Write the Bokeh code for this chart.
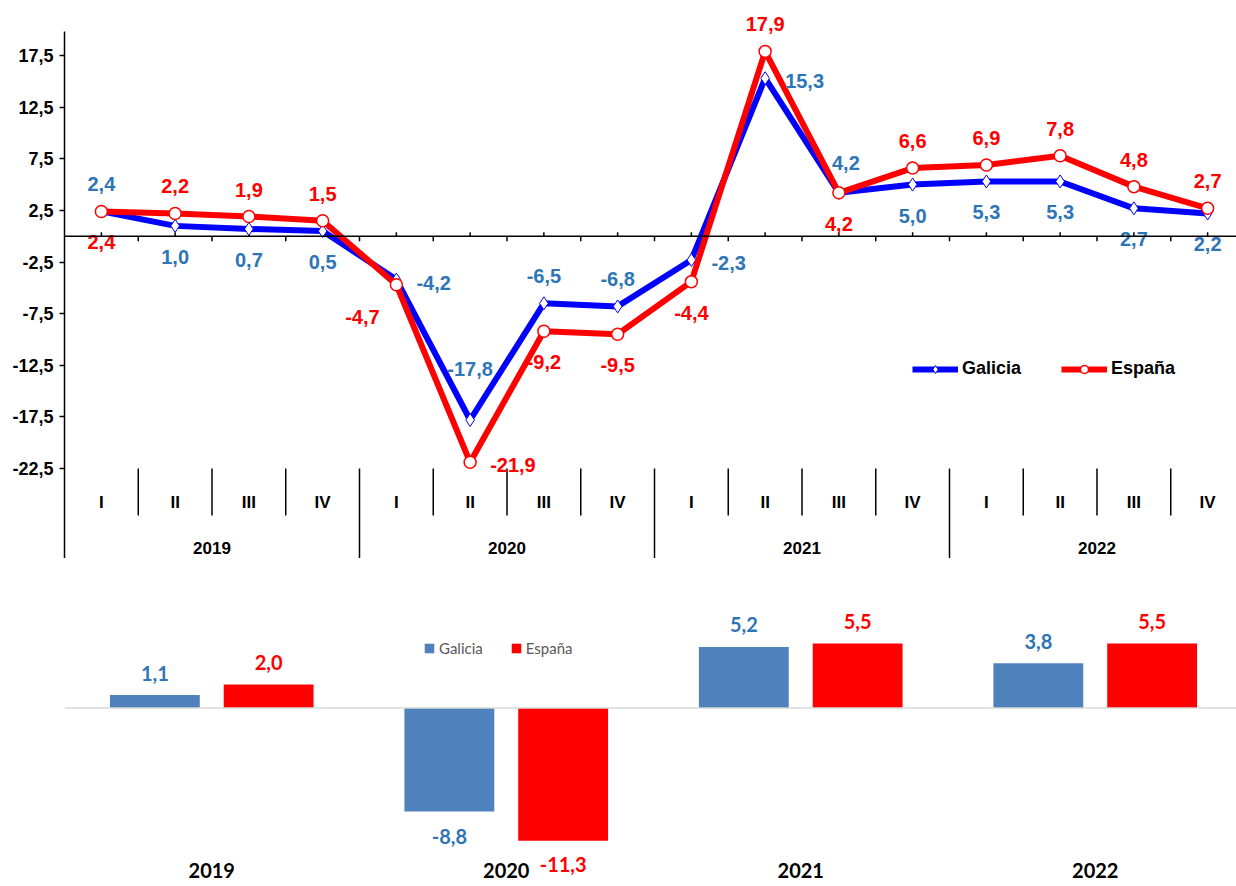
from bokeh.plotting import figure
from bokeh.models import (Range1d, FixedTicker, Span, Legend, LegendItem, LabelSet,
                          ColumnDataSource)
from bokeh.layouts import column
from bokeh.embed import file_html
from bokeh.resources import INLINE
from bokeh.core.properties import value
from bokeh.transform import dodge

# ---------------- data ----------------
years = ["2019", "2020", "2021", "2022"]
quarters = ["I", "II", "III", "IV"]
galicia_q = [2.4, 1.0, 0.7, 0.5, -4.2, -17.8, -6.5, -6.8, -2.3, 15.3, 4.2, 5.0, 5.3, 5.3, 2.7, 2.2]
espana_q = [2.4, 2.2, 1.9, 1.5, -4.7, -21.9, -9.2, -9.5, -4.4, 17.9, 4.2, 6.6, 6.9, 7.8, 4.8, 2.7]
galicia_y = [1.1, -8.8, 5.2, 3.8]
espana_y = [2.0, -11.3, 5.5, 5.5]
y_ticks = [-22.5, -17.5, -12.5, -7.5, -2.5, 2.5, 7.5, 12.5, 17.5]

# data-label placement (Excel-like label positions)
galicia_pos = ["above", "below", "below", "below", "right", "high", "above", "above",
               "right", "right", "aboveright", "below", "below", "below", "below", "below"]
espana_pos = ["below", "above", "above", "above", "belowleft", "right", "below", "below",
              "below", "above", "below", "above", "above", "above", "above", "above"]

# ---------------- styles ----------------
FONT = "Liberation Sans"
BFONT = "Lato"
BLUE_LINE = "#0000FF"
RED = "#FF0000"
BLUE_TXT = "#2E75B6"
BAR_BLUE = "#4F81BD"


def fmt(v):
    return f"{v:.1f}".replace(".", ",")


PLACE = {
    "above": (0, -27, "center"),
    "below": (0, 31, "center"),
    "right": (20, 3, "left"),
    "high": (0, -51, "center"),
    "belowleft": (-34, 32, "center"),
    "aboveright": (7, -30, "center"),
}

# ---------------- top chart (quarterly) ----------------
PX = 10.325          # px per unit
ZERO = 235.7         # px of zero below figure top
FIG1_H = 558
QW = 73.75           # px per quarter
LEFT1 = 64
FRAME_W = 1236 - LEFT1

n_q = len(years) * len(quarters)
y_top = ZERO / PX
y_bot = -(FIG1_H - ZERO) / PX
axis_top = (ZERO - 31) / PX

p1 = figure(width=LEFT1 + FRAME_W, height=FIG1_H,
            x_range=Range1d(0, FRAME_W / QW), y_range=Range1d(y_bot, y_top),
            output_backend="svg", toolbar_location=None, x_axis_location=None,
            min_border_left=LEFT1, min_border_right=0, min_border_top=0, min_border_bottom=0)
p1.outline_line_color = None
p1.grid.visible = False
p1.background_fill_color = "white"

ya = p1.yaxis[0]
ya.ticker = FixedTicker(ticks=y_ticks)
ya.major_label_overrides = {t: fmt(t) for t in y_ticks}
ya.bounds = (y_bot, axis_top)
ya.axis_line_color = "black"
ya.axis_line_width = 1.5
ya.major_tick_line_color = "black"
ya.major_tick_line_width = 1.5
ya.major_tick_out = 5
ya.major_tick_in = 0
ya.minor_tick_line_color = None
ya.major_label_standoff = 6
ya.major_label_text_font = FONT
ya.major_label_text_font_style = "bold"
ya.major_label_text_font_size = "18px"
ya.major_label_text_color = "black"

# zero axis line with its ticks
p1.add_layout(Span(location=0, dimension="width", line_color="black", line_width=1.5))
centers = [i + 0.5 for i in range(n_q)]
bounds = list(range(1, n_q))
p1.segment(x0=bounds, y0=[0] * len(bounds), x1=bounds, y1=[-5 / PX] * len(bounds),
           line_color="black", line_width=1.5)
p1.segment(x0=centers, y0=[0] * n_q, x1=centers, y1=[4 / PX] * n_q,
           line_color="black", line_width=1.5)

# category axis below the plot (quarters grouped by year)
cat_top = y_ticks[0]
q_sep_bot = (ZERO - 515) / PX
q_lab_y = (ZERO - 502) / PX
yr_lab_y = (ZERO - 547) / PX
q_bounds = [b for b in bounds if b % len(quarters) != 0]
yr_bounds = [b for b in bounds if b % len(quarters) == 0]
p1.segment(x0=q_bounds, y0=[cat_top] * len(q_bounds), x1=q_bounds, y1=[q_sep_bot] * len(q_bounds),
           line_color="black", line_width=1.5)
p1.segment(x0=yr_bounds, y0=[cat_top] * len(yr_bounds), x1=yr_bounds, y1=[y_bot] * len(yr_bounds),
           line_color="black", line_width=1.5)
p1.text(x=centers, y=[q_lab_y] * n_q, text=quarters * len(years),
        text_font=value(FONT), text_font_style="bold", text_font_size="17px",
        text_color="black", text_align="center", text_baseline="middle")
yr_centers = [len(quarters) * (i + 0.5) for i in range(len(years))]
p1.text(x=yr_centers, y=[yr_lab_y] * len(years), text=years,
        text_font=value(FONT), text_font_style="bold", text_font_size="17px",
        text_color="black", text_align="center", text_baseline="middle")

# lines
gl = p1.line(centers, galicia_q, line_color=BLUE_LINE, line_width=6, line_join="round")
gm = p1.scatter(centers, galicia_q, marker="diamond", size=13, fill_color="white",
                line_color=BLUE_LINE, line_width=1)
sl = p1.line(centers, espana_q, line_color=RED, line_width=6, line_join="round")
sm = p1.scatter(centers, espana_q, marker="circle", size=12, fill_color="white",
                line_color=RED, line_width=1.5)


def label_source(vals, pos):
    return ColumnDataSource(dict(
        x=centers, y=vals, t=[fmt(v) for v in vals],
        dx=[PLACE[p][0] for p in pos], dy=[PLACE[p][1] for p in pos],
        al=[PLACE[p][2] for p in pos]))


for vals, pos, col in ((galicia_q, galicia_pos, BLUE_TXT), (espana_q, espana_pos, RED)):
    src = label_source(vals, pos)
    p1.text(x="x", y="y", text="t", x_offset="dx", y_offset="dy", text_align="al",
            text_baseline="middle", text_font=value(FONT), text_font_style="bold",
            text_font_size="20px", text_color=col, source=src)

leg1 = Legend(items=[LegendItem(label="Galicia", renderers=[gl, gm]),
                     LegendItem(label="España", renderers=[sl, sm])],
              orientation="horizontal", location=(912 - LEFT1, 179),
              glyph_width=46, glyph_height=20, label_standoff=4, spacing=40,
              padding=0, margin=0, border_line_color=None, background_fill_alpha=0,
              label_text_font=FONT, label_text_font_style="bold",
              label_text_font_size="18px", label_text_color="black")
p1.add_layout(leg1)

# ---------------- bottom chart (annual) ----------------
BPX = 11.75
FIG2_H = 886 - FIG1_H
BZERO = 707.5 - FIG1_H   # px of zero below figure top
YW = 295                 # px per year
LEFT2 = 62
B_FRAME_W = 1236 - LEFT2

p2 = figure(width=LEFT2 + B_FRAME_W, height=FIG2_H,
            x_range=Range1d(0, B_FRAME_W / YW),
            y_range=Range1d(-(FIG2_H - BZERO) / BPX, BZERO / BPX),
            output_backend="svg", toolbar_location=None, y_axis_location=None,
            x_axis_location=None,
            min_border_left=LEFT2, min_border_right=0, min_border_top=0, min_border_bottom=0)
p2.outline_line_color = None
p2.grid.visible = False

yx = [i + 0.5 for i in range(len(years))]
p2.add_layout(Span(location=0, dimension="width", line_color="#D9D9D9", line_width=1.5))

bsrc = ColumnDataSource(dict(
    x=yx, g=galicia_y, s=espana_y,
    gt=[fmt(v) for v in galicia_y], st=[fmt(v) for v in espana_y],
    goff=[22 if v >= 0 else -25 for v in galicia_y],
    soff=[22 if v >= 0 else -24 for v in espana_y]))

OFF = 57 / YW
BW = 90 / YW
gb = p2.vbar(x=dodge("x", -OFF, range=p2.x_range), top="g", width=BW,
             fill_color=BAR_BLUE, line_color=None, source=bsrc)
sb = p2.vbar(x=dodge("x", OFF, range=p2.x_range), top="s", width=BW,
             fill_color=RED, line_color=None, source=bsrc)

p2.add_layout(LabelSet(x=dodge("x", -OFF, range=p2.x_range), y="g", text="gt", y_offset="goff",
                       text_align="center", text_baseline="middle",
                       text_font=value(BFONT), text_font_style="bold", text_font_size="20px",
                       text_color=BLUE_TXT, source=bsrc))
p2.add_layout(LabelSet(x=dodge("x", OFF, range=p2.x_range), y="s", text="st", y_offset="soff",
                       text_align="center", text_baseline="middle",
                       text_font=value(BFONT), text_font_style="bold", text_font_size="20px",
                       text_color=RED, source=bsrc))

# category (year) labels along the bottom of the chart
yr_lab2 = -(870 - 707.5) / BPX
p2.text(x=yx, y=[yr_lab2] * len(years), text=years,
        text_font=value(BFONT), text_font_style="bold", text_font_size="20px",
        text_color="black", text_align="center", text_baseline="middle")

leg2 = Legend(items=[LegendItem(label="Galicia", renderers=[gb]),
                     LegendItem(label="España", renderers=[sb])],
              orientation="horizontal", location=(421 - LEFT2, 229),
              glyph_width=12, glyph_height=12, label_standoff=4, spacing=27,
              padding=0, margin=0, border_line_color=None, background_fill_alpha=0,
              label_text_font=BFONT, label_text_font_size="15px",
              label_text_color="#595959")
p2.add_layout(leg2)

layout = column(p1, p2, spacing=0)
open("out.html", "w").write(file_html(layout, INLINE))
